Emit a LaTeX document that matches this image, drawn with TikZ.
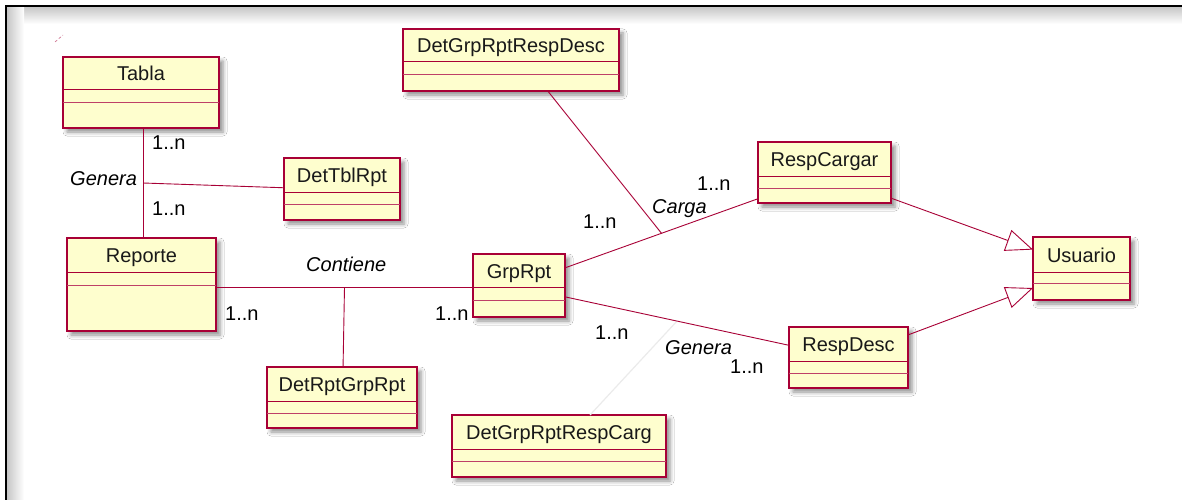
\documentclass[tikz,border=0pt]{standalone}
\usepackage{fontspec}
\setmainfont{Liberation Sans}
\usetikzlibrary{arrows.meta,shadows.blur,calc}
\definecolor{umlfill}{HTML}{FEFECE}
\definecolor{umlline}{HTML}{A80036}
\tikzset{
  clsbox/.style={draw=umlline, fill=umlfill, line width=1.1pt, inner sep=0pt, outer sep=0pt,
    blur shadow={shadow xshift=4pt, shadow yshift=-4pt, shadow blur radius=4pt, shadow opacity=45}},
  clsdiv/.style={draw=umlline, line width=1pt},
  clsname/.style={font=\fontsize{20}{24}\selectfont, text=black!90, inner sep=0pt, anchor=base},
  assoc/.style={draw=umlline, line width=0.9pt},
  faint/.style={draw=black!8, line width=1.2pt},
  mult/.style={font=\fontsize{20}{24}\selectfont, inner sep=0pt, anchor=base west},
  rolename/.style={font=\fontsize{20}{24}\selectfont\itshape, inner sep=0pt, anchor=base west},
  gen/.style={draw=umlline, line width=0.9pt,
    -{Triangle[length=27pt,width=22pt,fill=white,line width=0.9pt]}},
}
% class box: name, x1, y1, x2, y2, first divider, second divider, title
\newcommand{\umlclass}[8]{%
  \node[clsbox, anchor=north west, minimum width={(#4-#2)*1pt}, minimum height={(#5-#3)*1pt}] (#1) at (#2,#3) {};
  \draw[clsdiv] (#2,#6) -- (#4,#6);
  \draw[clsdiv, draw=umlline!75] (#2,#7) -- (#4,#7);
  \node[clsname] (#1-name) at ({(#2+#4)/2},{(#3+#6)/2+7.5}) {#8};}

\begin{document}
\begin{tikzpicture}[x=1pt,y=-1pt]
\useasboundingbox (0,0) rectangle (1182,500);
% frame with inner shading
\shade[top color=black!22, bottom color=white] (7,7) rectangle (1182,24);
\shade[left color=black!22, right color=white] (7,7) rectangle (24,500);
\fill[white] (24,24) rectangle (1182,500);
\draw[line width=2.6pt, black] (6,500) -- (6,6) -- (1182,6);
\draw[umlline!60, line width=0.6pt, densely dashed] (55,42) -- (63,35);

% classes
\umlclass{tabla}{63}{57}{219}{128}{90}{103}{Tabla}
\umlclass{dettbl}{284}{158}{400}{220}{192}{204}{DetTblRpt}
\umlclass{reporte}{67}{238}{216}{331}{272}{285}{Reporte}
\umlclass{detdesc}{403}{29}{619}{91}{62}{75}{DetGrpRptRespDesc}
\umlclass{respcargar}{758}{142}{891}{203}{176}{188}{RespCargar}
\umlclass{usuario}{1033}{237}{1130}{300}{272}{283}{Usuario}
\umlclass{respdesc}{789}{327}{908}{388}{361}{373}{RespDesc}
\umlclass{grprpt}{473}{254}{565}{317}{287}{300}{GrpRpt}
\umlclass{detrpt}{267}{367}{417}{428}{401}{413}{DetRptGrpRpt}
\umlclass{detcarg}{452}{415}{666}{477}{449}{461}{DetGrpRptRespCarg}

% Tabla -- Reporte (Genera) with association class DetTblRpt
\coordinate (gA) at ($(tabla.south west)!0.513!(tabla.south east)$);
\coordinate (gB) at (gA |- reporte.north);
\draw[assoc] (gA) -- (gB);
\coordinate (gJ) at ($(gA)!0.5!(gB)$);
\draw[assoc] (gJ) -- ($(dettbl.north west)!0.48!(dettbl.south west)$);

% Reporte -- GrpRpt (Contiene) with association class DetRptGrpRpt
\coordinate (cA) at ($(reporte.north east)!0.527!(reporte.south east)$);
\coordinate (cB) at (grprpt.west |- cA);
\draw[assoc] (cA) -- (cB);
\coordinate (cJ) at ($(cA)!0.5!(cB)$);
\draw[assoc] (cJ) -- ($(detrpt.north west)!0.507!(detrpt.north east)$);

% GrpRpt -- RespCargar (Carga) with association class DetGrpRptRespDesc
\coordinate (kA) at ($(grprpt.north east)!0.22!(grprpt.south east)$);
\coordinate (kB) at ($(respcargar.north west)!0.93!(respcargar.south west)$);
\draw[assoc] (kA) -- (kB);
\coordinate (kJ) at ($(kA)!0.5!(kB)$);
\draw[assoc] (kJ) -- ($(detdesc.south west)!0.67!(detdesc.south east)$);

% GrpRpt -- RespDesc (Genera) with association class DetGrpRptRespCarg
\coordinate (nA) at ($(grprpt.north east)!0.68!(grprpt.south east)$);
\coordinate (nB) at ($(respdesc.north west)!0.3!(respdesc.south west)$);
\coordinate (nJ) at ($(nA)!0.5!(nB)$);
\draw[faint] (nJ) -- ($(detcarg.north west)!0.645!(detcarg.north east)$);
\draw[assoc] (nA) -- (nB);

% generalizations
\draw[gen] ($(respcargar.north east)!0.92!(respcargar.south east)$) -- ($(usuario.north west)!0.2!(usuario.south west)$);
\draw[gen] ($(respdesc.north east)!0.13!(respdesc.south east)$) -- ($(usuario.north west)!0.81!(usuario.south west)$);

% labels
\node[mult] (m1) at (152,149) {1..n};
\node[mult] (m2) at (152,215) {1..n};
\node[rolename] (r1) at (70,185) {Genera};
\node[rolename] (r2) at (306,271) {Contiene};
\node[mult] (m3) at (225,320) {1..n};
\node[mult] (m4) at (435,320) {1..n};
\node[mult] (m5) at (697,190) {1..n};
\node[rolename] (r3) at (652,213) {Carga};
\node[mult] (m6) at (583,228) {1..n};
\node[mult] (m7) at (595,339) {1..n};
\node[rolename] (r4) at (665,354) {Genera};
\node[mult] (m8) at (730,373) {1..n};
\end{tikzpicture}
\end{document}
